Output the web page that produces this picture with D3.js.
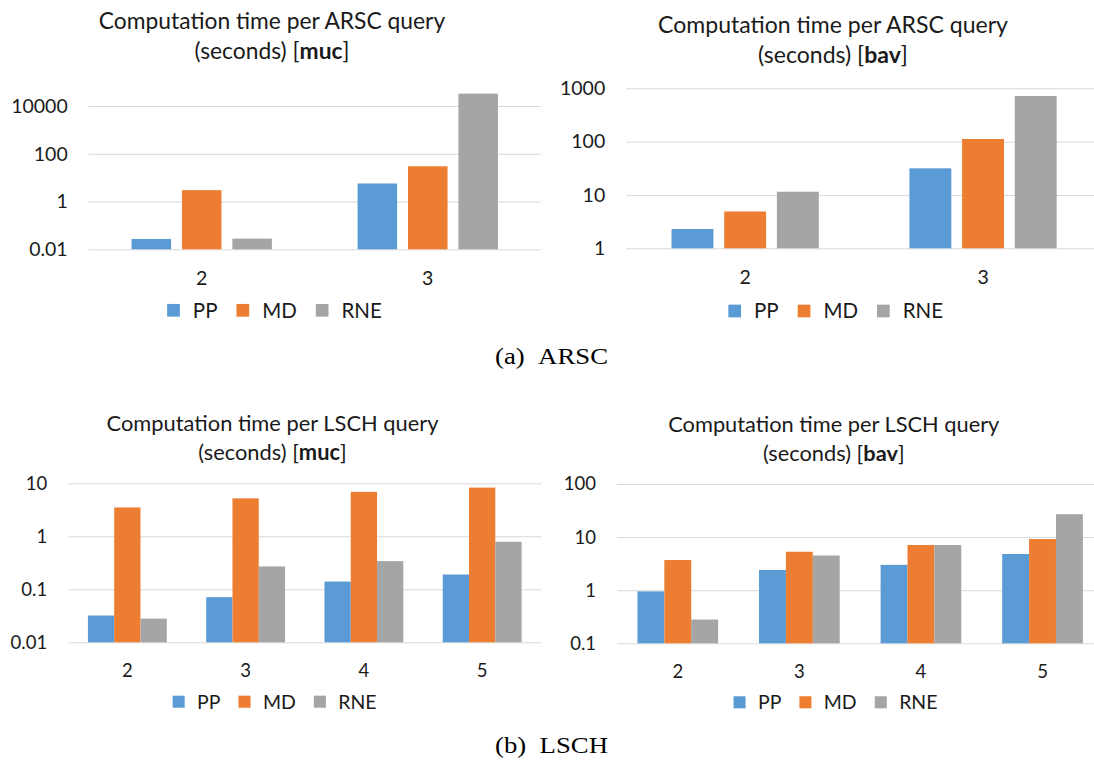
<!DOCTYPE html>
<html><head><meta charset="utf-8">
<script src="https://cdn.jsdelivr.net/npm/d3@7"></script>
<style>
body{margin:0;background:#fff}
svg{display:block}
text{font-family:Lato,"Open Sans",sans-serif;fill:#1a1a1a}
</style>
</head><body>
<svg id="chart" width="1094" height="765"></svg>
<script>
// ---------- data ----------
const series = ["PP", "MD", "RNE"];
const seriesColors = ["#5B9BD5", "#ED7D31", "#A5A5A5"];
const arscCategories = ["2", "3"];
const lschCategories = ["2", "3", "4", "5"];

const arscMucPP  = [0.027, 5.7];
const arscMucMD  = [3.0, 30];
const arscMucRNE = [0.028, 33000];

const arscBavPP  = [2.3, 31.6];
const arscBavMD  = [4.9, 112];
const arscBavRNE = [11.5, 718];

const lschMucPP  = [0.032, 0.071, 0.14, 0.19];
const lschMucMD  = [3.5, 5.2, 6.9, 8.3];
const lschMucRNE = [0.028, 0.27, 0.34, 0.79];

const lschBavPP  = [0.95, 2.4, 3.0, 4.8];
const lschBavMD  = [3.7, 5.3, 7.1, 9.2];
const lschBavRNE = [0.28, 4.5, 7.1, 27];

const ticksArscMuc = [0.01, 1, 100, 10000];
const ticksArscBav = [1, 10, 100, 1000];
const ticksLschMuc = [0.01, 0.1, 1, 10];
const ticksLschBav = [0.1, 1, 10, 100];
const tickLabelsArscMuc = ["0.01", "1", "100", "10000"];
const tickLabelsArscBav = ["1", "10", "100", "1000"];
const tickLabelsLschMuc = ["0.01", "0.1", "1", "10"];
const tickLabelsLschBav = ["0.1", "1", "10", "100"];

const titleLine1ARSC = "Computation time per ARSC query";
const titleLine1LSCH = "Computation time per LSCH query";
const captionA = ["(a)", "ARSC"];
const captionB = ["(b)", "LSCH"];

// ---------- layout ----------
const panels = [
  {line1: titleLine1ARSC, tag: "muc", cats: arscCategories, vals: [arscMucPP, arscMucMD, arscMucRNE],
   ticks: ticksArscMuc, tickLabels: tickLabelsArscMuc,
   left: 88.7, right: 540.8, yBottom: 249.3, yTop: 106, pIn: 0.216, pOut: 0.85,
   titleX: 272, titleY1: 29, titleY2: 59, titleW: 346.5,
   catY: 278, legX: 274.5, legY: 310.3, scale: 1},
  {line1: titleLine1ARSC, tag: "bav", cats: arscCategories, vals: [arscBavPP, arscBavMD, arscBavRNE],
   ticks: ticksArscBav, tickLabels: tickLabelsArscBav,
   left: 626.2, right: 1102, yBottom: 248.3, yTop: 88.3, pIn: 0.205, pOut: 0.86,
   titleX: 833, titleY1: 33, titleY2: 63, titleW: 350,
   catY: 276.7, legX: 835.7, legY: 311, scale: 1},
  {line1: titleLine1LSCH, tag: "muc", cats: lschCategories, vals: [lschMucPP, lschMucMD, lschMucRNE],
   ticks: ticksLschMuc, tickLabels: tickLabelsLschMuc,
   left: 68.2, right: 541.3, yBottom: 642.3, yTop: 483.3, pIn: 0, pOut: 0.75,
   titleX: 272.5, titleY1: 431, titleY2: 460, titleW: 332,
   catY: 670.7, legX: 274.6, legY: 701.7, scale: 0.95},
  {line1: titleLine1LSCH, tag: "bav", cats: lschCategories, vals: [lschBavPP, lschBavMD, lschBavRNE],
   ticks: ticksLschBav, tickLabels: tickLabelsLschBav,
   left: 617, right: 1103.3, yBottom: 643.3, yTop: 484, pIn: 0, pOut: 0.76,
   titleX: 833.8, titleY1: 432, titleY2: 461, titleW: 331.4,
   catY: 671.7, legX: 835.5, legY: 702.3, scale: 0.95}
];

const svg = d3.select("#chart");
svg.append("rect").attr("width", 1094).attr("height", 765).attr("fill", "#fff");

panels.forEach(p => {
  const g = svg.append("g");
  const x0 = d3.scaleBand().domain(p.cats).range([p.left, p.right]).padding(0);
  const x1 = d3.scaleBand().domain(series).range([0, x0.bandwidth()])
    .paddingInner(p.pIn).paddingOuter(p.pOut);
  const y = d3.scaleLog().domain([p.ticks[0], p.ticks[p.ticks.length - 1]])
    .range([p.yBottom, p.yTop]);

  // gridlines
  const grid = g.append("g").attr("transform", `translate(${p.left},0)`)
    .call(d3.axisLeft(y).tickValues(p.ticks).tickFormat("").tickSizeInner(-(p.right - p.left)).tickSizeOuter(0));
  grid.select(".domain").remove();
  grid.selectAll("line").attr("stroke", "#D9D9D9").attr("stroke-width", 1);

  // y labels
  const ya = g.append("g").attr("transform", `translate(${p.left},0)`)
    .call(d3.axisLeft(y).tickValues(p.ticks).tickFormat((d, i) => p.tickLabels[i]).tickSize(0).tickPadding(21));
  ya.select(".domain").remove();
  ya.selectAll("text").attr("font-family", "Lato").attr("font-size", 19.5 * p.scale).attr("fill", "#1a1a1a");

  // bars
  const rows = p.cats.map((c, ci) => ({cat: c, vals: series.map((s, si) => ({s, si, v: p.vals[si][ci]}))}));
  const base = p.ticks[0];
  g.append("g").selectAll("g").data(rows).join("g")
    .attr("transform", d => `translate(${x0(d.cat)},0)`)
    .selectAll("rect").data(d => d.vals).join("rect")
    .attr("x", d => x1(d.s))
    .attr("width", x1.bandwidth())
    .attr("y", d => y(d.v))
    .attr("height", d => y(base) - y(d.v))
    .attr("fill", d => seriesColors[d.si]);

  // category labels
  const xa = g.append("g").attr("transform", `translate(0,${p.catY})`)
    .call(d3.axisBottom(x0).tickSize(0).tickPadding(0));
  xa.select(".domain").remove();
  xa.selectAll("text").attr("y", 0).attr("dy", "0.36em")
    .attr("font-family", "Lato").attr("font-size", 19.5 * p.scale).attr("fill", "#1a1a1a");

  // title
  const t1 = g.append("text").attr("x", p.titleX).attr("y", p.titleY1)
    .attr("text-anchor", "middle").attr("font-size", 22).text(p.line1);
  const w = t1.node().getComputedTextLength();
  const fs = 22 * p.titleW / w;
  t1.attr("font-size", fs);
  const t2 = g.append("text").attr("x", p.titleX).attr("y", p.titleY2)
    .attr("text-anchor", "middle").attr("font-size", fs);
  t2.append("tspan").text("(seconds) [");
  t2.append("tspan").attr("font-weight", "bold").text(p.tag);
  t2.append("tspan").text("]");

  // legend
  const sw = 12.7 * p.scale, gap1 = 13 * p.scale, gap2 = 19 * p.scale, lfs = 20.5 * p.scale;
  const lg = g.append("g");
  const items = series.map((s, i) => {
    const t = lg.append("text").attr("font-size", lfs).attr("dy", "0.36em").attr("y", p.legY).text(s);
    return {t, w: t.node().getComputedTextLength(), i};
  });
  const total = items.reduce((a, it) => a + sw + gap1 + it.w, 0) + gap2 * (items.length - 1);
  let cx = p.legX - total / 2;
  items.forEach(it => {
    lg.append("rect").attr("x", cx).attr("y", p.legY - sw / 2).attr("width", sw).attr("height", sw)
      .attr("fill", seriesColors[it.i]);
    it.t.attr("x", cx + sw + gap1);
    cx += sw + gap1 + it.w + gap2;
  });
});

// captions
function caption(parts, yb) {
  const t = svg.append("text").attr("x", 551.5).attr("y", yb).attr("text-anchor", "middle")
    .attr("font-family", "'Liberation Serif', serif").attr("font-size", 23).attr("fill", "#000")
    .attr("textLength", 113).attr("lengthAdjust", "spacingAndGlyphs")
    .style("fill", "#000").style("font-family", "'Liberation Serif', serif");
  t.text(parts[0] + "\u2002" + parts[1]);
}
caption(captionA, 364.3);
caption(captionB, 753.3);
</script>
</body></html>
